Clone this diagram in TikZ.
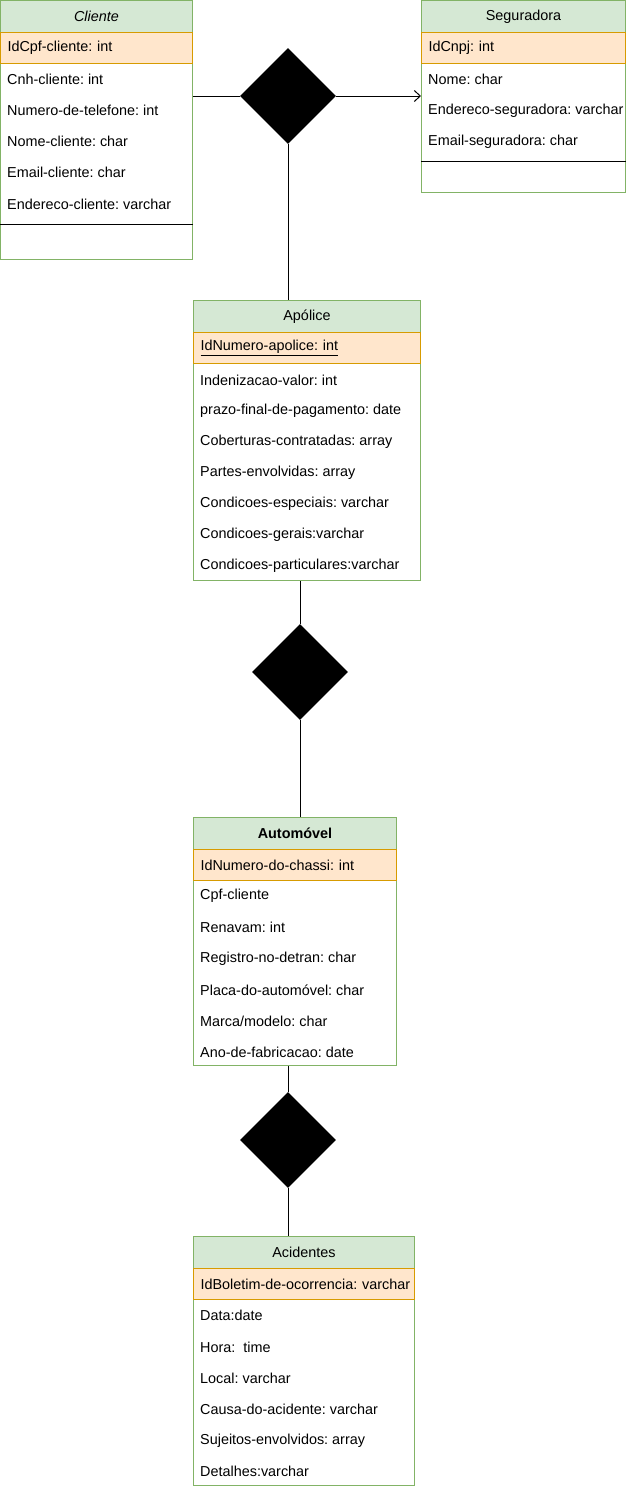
\documentclass[tikz,border=0pt]{standalone}
\usepackage{fontspec}
\setmainfont{Liberation Sans}
\frenchspacing
\usetikzlibrary{arrows.meta,positioning,shapes.geometric}
\definecolor{umlgreen}{HTML}{82B366}
\definecolor{headgreen}{HTML}{D5E8D4}
\definecolor{pkorange}{HTML}{D79B00}
\definecolor{pkfill}{HTML}{FFE6CC}

\begin{document}
\begin{tikzpicture}[x=1pt,y=-1pt,
  every node/.style={font=\fontsize{14.4}{16}\selectfont},
  entbox/.style={draw=umlgreen, fill=white, line width=1pt, inner sep=0, anchor=north west},
  headrow/.style={draw=umlgreen, fill=headgreen, line width=1pt, minimum height=32,
    inner xsep=7pt, inner ysep=0, text width=#1, align=center, anchor=north west},
  pkrow/.style={draw=pkorange, fill=pkfill, line width=1pt, minimum height=31,
    inner xsep=7pt, inner ysep=0, text width=#1, align=left, anchor=north west},
  attr/.style={anchor=west, inner sep=0},
  rel/.style={diamond, fill=black, minimum width=96, minimum height=96, inner sep=0},
  conn/.style={line width=1pt}]
  \useasboundingbox (0,0) rectangle (626,1491);

  % Cliente
  \node[entbox, minimum width=192, minimum height=259] (cliente) at (0,0) {};
  \node[headrow=178pt] (clientehead) at (0,0) {\itshape Cliente};
  \node[pkrow=178pt] (clientepk) at (0,32) {IdCpf-cliente: int};
  \foreach \t [count=\i] in {Cnh-cliente: int, Numero-de-telefone: int, Nome-cliente: char,
    Email-cliente: char, Endereco-cliente: varchar}
    \node[attr] (cliente-\i) at (7,{48+31.2*\i}) {\t};
  \coordinate (clisep) at (0,224);
  \draw (clisep) -- (clisep -| cliente.east);

  % Seguradora
  \node[entbox, minimum width=204, minimum height=192] (segur) at (421,0) {};
  \node[headrow=190pt] (segurhead) at (421,0) {Seguradora};
  \node[pkrow=190pt] (segurpk) at (421,32) {IdCnpj: int};
  \begin{scope}
    \clip (segur.north west) rectangle (segur.south east);
    \foreach \t [count=\i] in {Nome: char, Endereco-seguradora: varchar, Email-seguradora: char}
      \node[attr] (segur-\i) at (428,{48+31.2*\i}) {\t};
  \end{scope}
  \coordinate (segsep) at (421,161);
  \draw (segsep) -- (segsep -| segur.east);

  % Apolice
  \node[entbox, minimum width=227, minimum height=280] (apolice) at (193,300) {};
  \node[headrow=213pt] (apolicehead) at (193,300) {Apólice};
  \node[pkrow=213pt] (apolicepk) at (193,332) {\underline{IdNumero-apolice: int}};
  \foreach \t [count=\i] in {Indenizacao-valor: int, prazo-final-de-pagamento: date,
    Coberturas-contratadas: array, Partes-envolvidas: array, Condicoes-especiais: varchar,
    Condicoes-gerais:varchar, Condicoes-particulares:varchar}
    \node[attr] (apolice-\i) at (200,{349+31*\i}) {\t};

  % Automovel
  \node[entbox, minimum width=203, minimum height=248] (auto) at (193,817) {};
  \node[headrow=189pt] (autohead) at (193,817) {\bfseries Automóvel};
  \node[pkrow=189pt] (autopk) at (193,849) {IdNumero-do-chassi: int};
  \foreach \t [count=\i] in {Cpf-cliente, Renavam: int, Registro-no-detran: char,
    Placa-do-automóvel: char, Marca/modelo: char, Ano-de-fabricacao: date}
    \node[attr] (auto-\i) at (200,{865+31.2*\i}) {\t};

  % Acidentes
  \node[entbox, minimum width=221, minimum height=249] (acid) at (193,1236) {};
  \node[headrow=207pt] (acidhead) at (193,1236) {Acidentes};
  \node[pkrow=207pt] (acidpk) at (193,1268) {\mbox{IdBoletim-de-ocorrencia: varchar}};
  \foreach \t [count=\i] in {Data:date, Hora:\ \ time, Local: varchar, Causa-do-acidente: varchar,
    Sujeitos-envolvidos: array, Detalhes:varchar}
    \node[attr] (acid-\i) at (200,{1284.5+31.2*\i}) {\t};

  % Relationships
  \node[rel] (relcs) at (288,96) {};
  \node[rel] (relaa) at (300,672) {};
  \node[rel] (relad) at (288,1140) {};

  \draw[conn] (relcs.west -| cliente.east) -- (relcs.west);
  \draw[conn, -{Straight Barb[length=6pt,width=11pt]}] (relcs.east) -- (relcs.east -| segur.west);
  \draw[conn] (relcs.south) -- (relcs.south |- apolice.north);
  \draw[conn] (relaa.north |- apolice.south) -- (relaa.north);
  \draw[conn] (relaa.south) -- (relaa.south |- auto.north);
  \draw[conn] (relad.north |- auto.south) -- (relad.north);
  \draw[conn] (relad.south) -- (relad.south |- acid.north);
\end{tikzpicture}
\end{document}
